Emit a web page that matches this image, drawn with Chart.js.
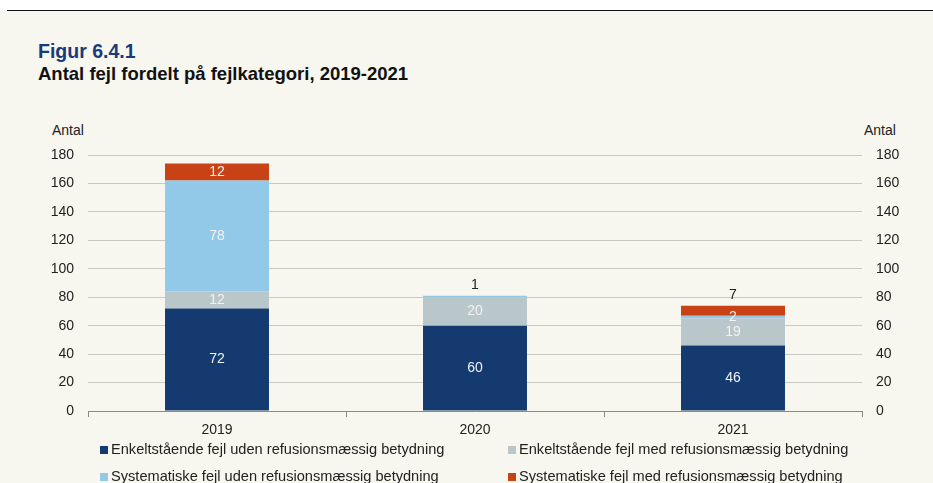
<!DOCTYPE html>
<html>
<head>
<meta charset="utf-8">
<script src="https://cdn.jsdelivr.net/npm/chart.js@4"></script>
<style>
  html, body { margin:0; padding:0; width:933px; height:483px; overflow:hidden; background:#ffffff; font-family:"Liberation Sans", Arial, sans-serif; }
  #bg { position:absolute; left:0; top:11px; width:933px; height:472px; background:#f7f6ef; }
  #rule { position:absolute; left:7px; top:10px; width:926px; height:1px; background:#111; }
  #wrap { position:absolute; left:0; top:0; width:933px; height:483px; }
  .t1 { position:absolute; left:38px; top:40px; font-size:19.5px; font-weight:bold; color:#1b3a78; }
  .t2 { position:absolute; left:38px; top:63px; font-size:18.5px; font-weight:bold; color:#111; }
  .ax { position:absolute; top:122px; font-size:14px; color:#222; }
  .leg { position:absolute; font-size:14.6px; color:#222; white-space:nowrap; }
  .leg i { display:inline-block; width:8px; height:8px; margin-right:3px; vertical-align:0px; }
</style>
</head>
<body>
<div id="bg"></div>
<div id="rule"></div>
<div class="t1">Figur 6.4.1</div>
<div class="t2">Antal fejl fordelt på fejlkategori, 2019-2021</div>
<div class="ax" style="left:52px">Antal</div>
<div class="ax" style="left:864px">Antal</div>
<div id="wrap"><canvas id="c" width="933" height="483"></canvas></div>
<div id="legend"></div>
<script>
const categories = ["2019", "2020", "2021"];
const seriesNames = [
  "Enkeltstående fejl uden refusionsmæssig betydning",
  "Enkeltstående fejl med refusionsmæssig betydning",
  "Systematiske fejl uden refusionsmæssig betydning",
  "Systematiske fejl med refusionsmæssig betydning"
];
const enkeltUden = [72, 60, 46];
const enkeltMed = [12, 20, 19];
const systUden = [78, 1, 2];
const systMed = [12, 0, 7];
const yTicks = [0, 20, 40, 60, 80, 100, 120, 140, 160, 180];
const colors = ["#143a6f", "#b9c7cb", "#93c9e8", "#c94215"];

const seriesValues = [enkeltUden, enkeltMed, systUden, systMed];

// legend (HTML, two columns)
const legPos = [[100, 441], [508, 441], [100, 468], [508, 468]];
const legEl = document.getElementById('legend');
seriesNames.forEach((n, i) => {
  const d = document.createElement('div');
  d.className = 'leg';
  d.style.left = legPos[i][0] + 'px';
  d.style.top = legPos[i][1] + 'px';
  d.innerHTML = '<i style="background:' + colors[i] + '"></i>' + n;
  legEl.appendChild(d);
});

const labelPlugin = {
  id: 'barLabels',
  afterDatasetsDraw(chart) {
    const ctx = chart.ctx;
    ctx.save();
    ctx.font = '14px "Liberation Sans", Arial, sans-serif';
    ctx.textAlign = 'center';
    ctx.textBaseline = 'middle';
    categories.forEach((c, j) => {
      let topIdx = -1;
      seriesValues.forEach((arr, i) => { if (arr[j] > 0) topIdx = i; });
      seriesValues.forEach((arr, i) => {
        const v = arr[j];
        if (!v) return;
        const el = chart.getDatasetMeta(i).data[j];
        if (i === topIdx && v < 8) {
          ctx.fillStyle = '#222';
          ctx.fillText(String(v), el.x, el.y - 11);
        } else {
          ctx.fillStyle = '#f2f2f2';
          ctx.fillText(String(v), el.x, (el.y + el.base) / 2);
        }
      });
    });
    ctx.restore();
  }
};

const tickFont = { family: '"Liberation Sans", Arial, sans-serif', size: 14 };

new Chart(document.getElementById('c'), {
  type: 'bar',
  data: {
    labels: categories,
    datasets: seriesValues.map((arr, i) => ({
      label: seriesNames[i],
      data: arr,
      backgroundColor: colors[i],
      borderWidth: 0,
      categoryPercentage: 1,
      barPercentage: 0.403
    }))
  },
  options: {
    responsive: false,
    animation: false,
    layout: { padding: { top: 155, left: 0, right: 0, bottom: 0 } },
    plugins: { legend: { display: false }, tooltip: { enabled: false } },
    scales: {
      x: {
        stacked: true,
        grid: { display: true, drawOnChartArea: false, drawTicks: true, tickLength: 6, color: '#8a8a8a', offset: true },
        border: { display: true, color: '#8a8a8a', width: 1 },
        ticks: { font: tickFont, color: '#222', padding: 5 },
        afterFit(s) { s.height = 72; }
      },
      y: {
        stacked: true,
        position: 'left',
        min: 0, max: 180,
        afterBuildTicks(s) { s.ticks = yTicks.map(v => ({ value: v })); },
        grid: { color: '#c9c9c0', drawTicks: false, lineWidth: 1 },
        border: { display: false },
        ticks: { font: tickFont, color: '#222', padding: 14 },
        afterFit(s) { s.width = 88; }
      },
      y2: {
        position: 'right',
        min: 0, max: 180,
        afterBuildTicks(s) { s.ticks = yTicks.map(v => ({ value: v })); },
        grid: { display: false, drawTicks: false },
        border: { display: false },
        ticks: { font: tickFont, color: '#222', padding: 14 },
        afterFit(s) { s.width = 71; }
      }
    }
  },
  plugins: [labelPlugin]
});
</script>
</body>
</html>
